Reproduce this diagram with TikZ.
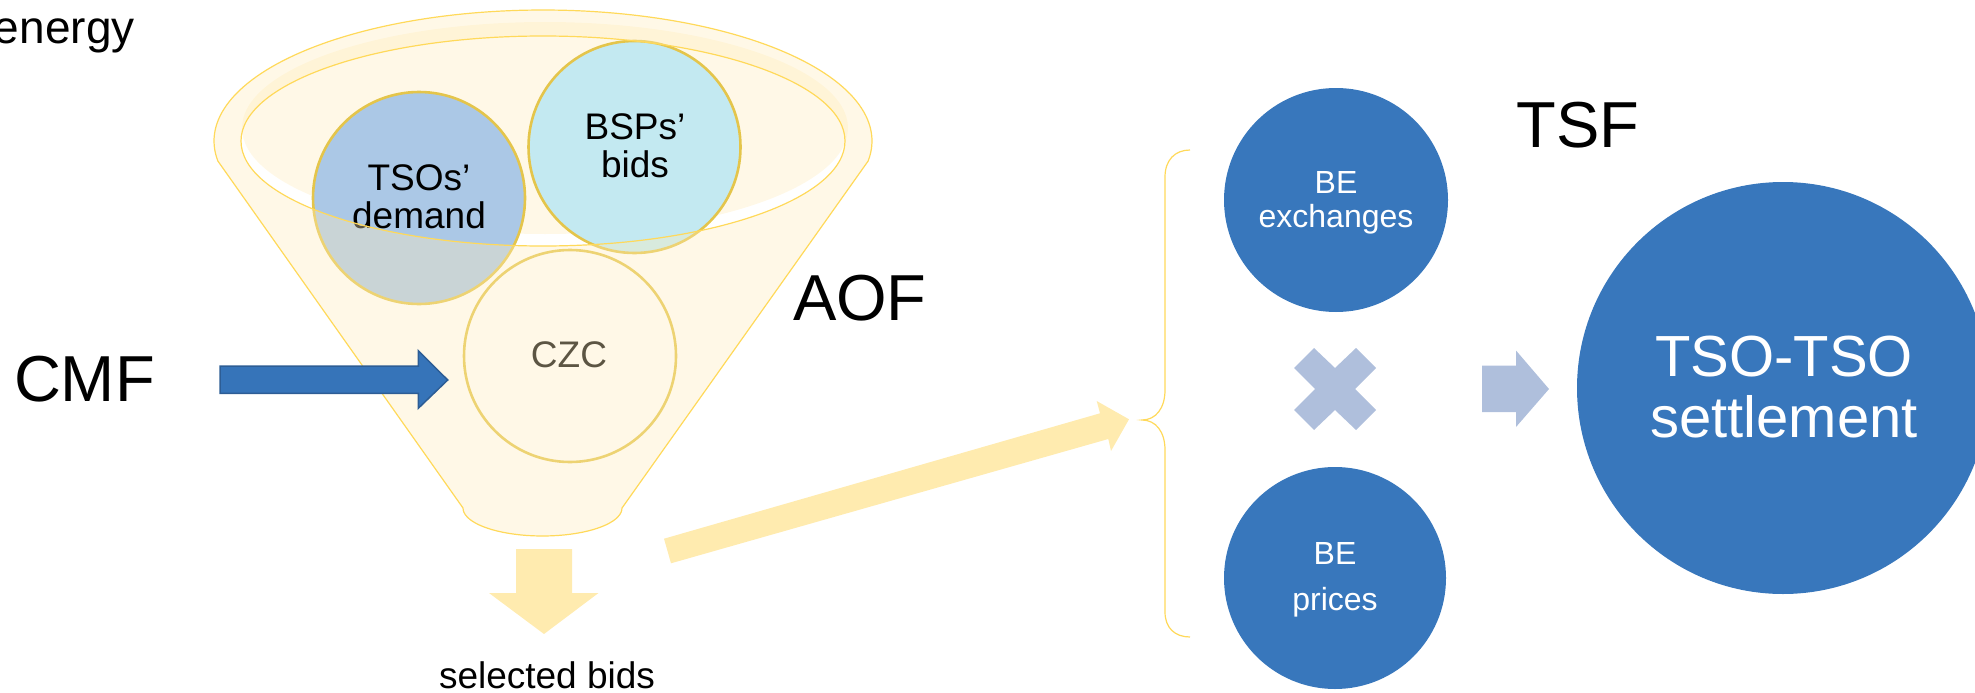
\documentclass[tikz,border=0pt]{standalone}
\usepackage{fontspec}
\setmainfont{Liberation Sans}
\definecolor{cream}{HTML}{FFECBC}
\definecolor{rimline}{HTML}{FFD95A}
\definecolor{ringline}{HTML}{E4C54B}
\definecolor{tsofill}{HTML}{ABC8E6}
\definecolor{bspfill}{HTML}{C3E9F1}
\definecolor{beblue}{HTML}{3877BC}
\definecolor{paleblue}{HTML}{AFBFDC}
\definecolor{paleyellow}{HTML}{FFEBAF}
\definecolor{cmfblue}{HTML}{3674B9}
\definecolor{cmfedge}{HTML}{2D5D95}
\begin{document}
\begin{tikzpicture}[x=1pt,y=-1pt,
  lbl/.style={inner sep=0pt, outer sep=0pt, anchor=base},
  small/.style={font=\fontsize{37pt}{40pt}\selectfont},
  big/.style={font=\fontsize{65pt}{70pt}\selectfont},
  becap/.style={font=\fontsize{32pt}{34pt}\selectfont, text=white},
  bubble/.style={circle, inner sep=0pt, outer sep=0pt, minimum size=212pt, draw=ringline, line width=2.6pt},
  blueball/.style={circle, inner sep=0pt, outer sep=0pt, fill=beblue},
  creamfill/.style={fill=cream, fill opacity=0.36},
  rim/.style={draw=rimline, line width=1.2pt},
  blockarrow/.style={fill=paleyellow}]
\useasboundingbox (0,0) rectangle (1975,693);
\clip (0,0) rectangle (1975,693);

% shading inside the mouth of the funnel
\fill[creamfill] (545,128) ellipse [x radius=303, y radius=106];

% the three inputs inside the funnel
\node[bubble, fill=tsofill] (tso) at (419,198) {};
\node[bubble, fill=bspfill] (bsp) at (634.5,147) {};
\node[bubble] (czc) at (570,356) {};
\node[lbl, small] (tsoA) at (419,190) {TSOs’};
\node[lbl, small] (tsoB) at (419,228) {demand};
\node[lbl, small] (bspA) at (635,139) {BSPs’};
\node[lbl, small] (bspB) at (635,177) {bids};
\node[lbl, small] (czcA) at (569,367) {CZC};

% funnel body, with the open mouth left clear
\fill[creamfill, even odd rule]
  plot[domain=171.2:368.8, samples=120] ({543+329*cos(\x)},{141+131*sin(\x)})
  -- (622,508)
  -- plot[domain=0:180, samples=40] ({542.5+79.5*cos(\x)},{508+28*sin(\x)})
  -- cycle
  (543,141) ellipse [x radius=302, y radius=105];
\draw[rim]
  plot[domain=171.2:368.8, samples=120] ({543+329*cos(\x)},{141+131*sin(\x)})
  -- (622,508)
  -- plot[domain=0:180, samples=40] ({542.5+79.5*cos(\x)},{508+28*sin(\x)})
  -- cycle;
\draw[rim] (543,141) ellipse [x radius=302, y radius=105];

% labels
\node[lbl, anchor=base west, font=\fontsize{46pt}{50pt}\selectfont] (energy) at (-6,44) {energy};
\node[lbl, big, anchor=base west] (cmf) at (14,401.5) {CMF};
\node[lbl, big, anchor=base west] (aof) at (793,320) {AOF};
\node[lbl, big, anchor=base west] (tsf) at (1516.5,147) {TSF};
\node[lbl, small] (sel) at (547,688) {selected bids};

% CMF feeding the CZC
\filldraw[fill=cmfblue, draw=cmfedge, line width=1.5pt]
  (220,366) -- (418.3,366) -- (418.3,350.7) -- (447.7,380)
  -- (418.3,408.3) -- (418.3,393.3) -- (220,393.3) -- cycle;

% output of the funnel
\fill[blockarrow] (516,549) -- (572,549) -- (572,593) -- (598.5,593)
  -- (544,634) -- (489,593) -- (516,593) -- cycle;
\fill[blockarrow] (664,538.7) -- (1100,413.3) -- (1096.7,401) -- (1129,419.3)
  -- (1111,451) -- (1108.3,439) -- (671,563.3) -- cycle;

% brace grouping the settlement inputs
\coordinate (braceTop) at (1190,150);
\coordinate (braceTip) at (1142,420);
\coordinate (braceBot) at (1190,637);
\draw[rim] (braceTop) .. controls (1175,150) and (1165,160) .. (1165,177)
  -- (1165,390) .. controls (1165,408) and (1156,420) .. (braceTip)
  .. controls (1156,420) and (1165,432) .. (1165,450)
  -- (1165,612) .. controls (1165,628) and (1175,637) .. (braceBot);

% settlement inputs
\node[blueball, minimum size=224pt] (bex) at (1336,200) {};
\node[blueball, minimum size=222pt] (bpr) at (1335,578) {};
\node[lbl, becap] (bexA) at (1336,193) {BE};
\node[lbl, becap] (bexB) at (1336,227) {exchanges};
\node[lbl, becap] (bprA) at (1335,564.4) {BE};
\node[lbl, becap] (bprB) at (1335,610) {prices};

% multiplication sign
\fill[paleblue] (1314,348) -- (1335,368) -- (1356,348) -- (1376,368)
  -- (1355,389) -- (1376,410) -- (1356,430) -- (1335,410) -- (1314,430)
  -- (1294,410) -- (1315,389) -- (1294,368) -- cycle;

% result arrow
\fill[paleblue] (1482,365.5) -- (1516,365.5) -- (1516,350.5) -- (1549,389)
  -- (1516,427) -- (1516,412) -- (1482,412) -- cycle;

% final settlement
\node[blueball, minimum size=412pt] (settle) at (1783,388) {};
\node[lbl, font=\fontsize{58pt}{61pt}\selectfont, text=white] (setA) at (1784,376.6) {TSO-TSO};
\node[lbl, font=\fontsize{58pt}{61pt}\selectfont, text=white] (setB) at (1784,437.5) {settlement};
\end{tikzpicture}
\end{document}
